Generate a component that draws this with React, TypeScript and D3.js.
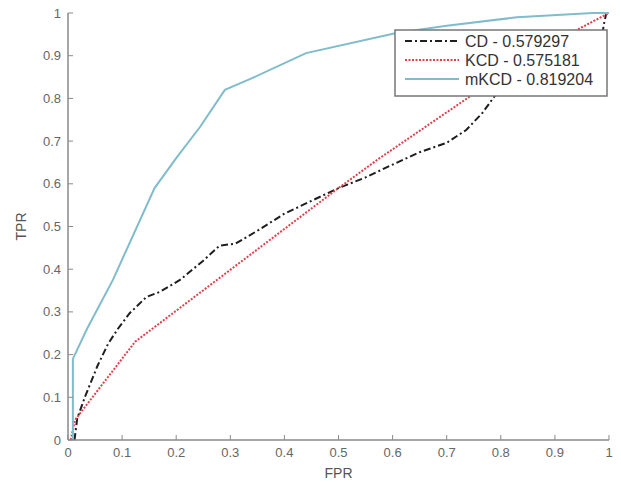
import React from 'react'
import * as d3 from 'd3'

const width = 621
const height = 491
const margin = { left: 68, right: 12, top: 13, bottom: 51 }

// ROC points [fpr, tpr]
const cdPoints: [number, number][] = [
  [0.012, 0], [0.017, 0.05], [0.031, 0.1], [0.055, 0.175], [0.074, 0.225],
  [0.092, 0.26], [0.114, 0.297], [0.145, 0.335], [0.17, 0.347], [0.207, 0.375],
  [0.25, 0.42], [0.28, 0.455], [0.31, 0.46], [0.35, 0.49], [0.4, 0.53],
  [0.45, 0.56], [0.5, 0.59], [0.55, 0.615], [0.6, 0.645], [0.65, 0.674],
  [0.7, 0.696], [0.736, 0.726], [0.766, 0.766], [0.793, 0.813], [0.85, 0.88],
  [0.92, 0.91], [0.96, 0.92], [0.985, 0.925], [0.99, 0.97], [0.995, 1], [1, 1],
]
const kcdPoints: [number, number][] = [
  [0.005, 0], [0.013, 0.047], [0.124, 0.23], [0.5, 0.59], [0.576, 0.66],
  [0.755, 0.815], [0.94, 0.96], [1, 1],
]
const mkcdPoints: [number, number][] = [
  [0.009, 0], [0.009, 0.19], [0.035, 0.26], [0.083, 0.375], [0.16, 0.59],
  [0.2, 0.66], [0.244, 0.733], [0.29, 0.82], [0.336, 0.845], [0.44, 0.906],
  [0.607, 0.953], [0.7, 0.97], [0.83, 0.99], [0.97, 1], [1, 1],
]

const legendLabels = ['CD - 0.579297', 'KCD - 0.575181', 'mKCD - 0.819204']
const ticks = [0, 0.1, 0.2, 0.3, 0.4, 0.5, 0.6, 0.7, 0.8, 0.9, 1]

const series = [
  { points: cdPoints, color: '#1e1e1e', dash: '7,3,2,3', w: 2 },
  { points: kcdPoints, color: '#e0404a', dash: '2,1.5', w: 2 },
  { points: mkcdPoints, color: '#80bccb', dash: null, w: 2 },
]

const x = d3.scaleLinear().domain([0, 1]).range([margin.left, width - margin.right])
const y = d3.scaleLinear().domain([0, 1]).range([height - margin.bottom, margin.top])
const line = d3.line<[number, number]>().x(d => x(d[0])).y(d => y(d[1]))

const font = '"Liberation Sans", Arial, sans-serif'
const axisColor = '#8a8a8a'
const labelColor = '#666'

const App = () => {
  const x0 = x(0)
  const y0 = y(0)
  return (
    <svg width={width} height={height} style={{ position: 'absolute', left: 0, top: 0, background: '#fff' }}>
      {/* curves */}
      {series.map((s, i) => (
        <path key={i} d={line(s.points) || ''} fill="none" stroke={s.color}
          strokeWidth={s.w} strokeDasharray={s.dash || undefined} />
      ))}

      {/* axes */}
      <line x1={x0} x2={x(1)} y1={y0} y2={y0} stroke={axisColor} strokeWidth={1.5} />
      <line x1={x0} x2={x0} y1={y0} y2={y(1)} stroke={axisColor} strokeWidth={1.5} />
      {ticks.map(t => (
        <g key={'x' + t}>
          <line x1={x(t)} x2={x(t)} y1={y0} y2={y0 - 5} stroke={axisColor} />
          <text x={x(t)} y={y0 + 17} textAnchor="middle" fontSize={13} fill={labelColor} fontFamily={font}>{t}</text>
        </g>
      ))}
      {ticks.map(t => (
        <g key={'y' + t}>
          <line x1={x0} x2={x0 + 5} y1={y(t)} y2={y(t)} stroke={axisColor} />
          <text x={x0 - 7} y={y(t)} dy="0.35em" textAnchor="end" fontSize={13} fill={labelColor} fontFamily={font}>{t}</text>
        </g>
      ))}
      <text x={x(0.5)} y={y0 + 38} textAnchor="middle" fontSize={14} fill="#555" fontFamily={font}>FPR</text>
      <text transform={`translate(${x0 - 42},${y(0.5)}) rotate(-90)`} textAnchor="middle" fontSize={14} fill="#555" fontFamily={font}>TPR</text>

      {/* legend */}
      <g transform="translate(395,30)">
        <rect x={0} y={0} width={212} height={66} fill="#fff" stroke="#777" strokeWidth={1.5} />
        {series.map((s, i) => (
          <g key={i} transform={`translate(0,${11 + i * 19})`}>
            <line x1={10} x2={64} y1={0} y2={0} stroke={s.color} strokeWidth={s.w}
              strokeDasharray={s.dash || undefined} />
            <text x={70} y={0} dy="0.36em" fontSize={16} fill="#333" fontFamily={font}>{legendLabels[i]}</text>
          </g>
        ))}
      </g>
    </svg>
  )
}

export default App
